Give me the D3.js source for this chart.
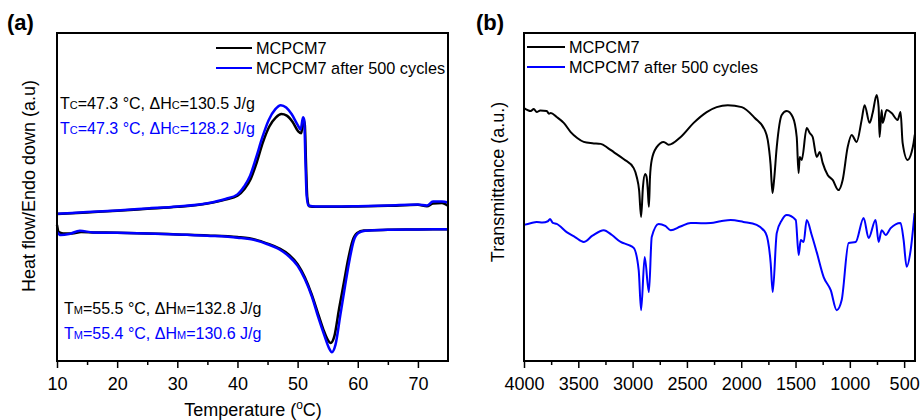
<!DOCTYPE html>
<html>
<head>
<meta charset="utf-8">
<script src="https://cdn.jsdelivr.net/npm/d3@7"></script>
<style>
  body { margin: 0; background: #fff; }
  svg { display: block; font-family: "Liberation Sans", Arial, sans-serif; }
</style>
</head>
<body>
<svg id="chart" width="921" height="420"></svg>
<script>
// ---- panel (a): DSC, temperature (°C) vs heat flow (a.u., 0-100 over the frame) ----
const dscTicks = [10, 20, 30, 40, 50, 60, 70];
const dscMinor = [15, 25, 35, 45, 55, 65];

const coolBlack = [
  [10, 44.8], [15, 45.3], [20, 45.8], [25, 46.4], [30, 47.0], [35, 48.0], [38, 49.2],
  [40, 50.4], [41.2, 52.5], [42.2, 55.5], [43.2, 60.5], [44.2, 66.5], [45.3, 71.5],
  [46.4, 74.3], [47.3, 75.3], [48.2, 74.8], [49.2, 72.8], [50.1, 70.0], [50.6, 69.4],
  [51.0, 73.5], [51.2, 72.0], [51.4, 60.0], [51.6, 50.0], [51.9, 47.2], [53, 47.0],
  [56, 47.0], [60, 47.1], [65, 47.3], [70, 47.6], [71.5, 47.2], [72.5, 48.0], [74, 48.2], [75, 47.3]
];
const coolBlue = [
  [10, 44.9], [15, 45.4], [20, 45.9], [25, 46.5], [30, 47.1], [35, 48.1], [38, 49.4],
  [40, 50.8], [41.1, 53.2], [42.1, 56.5], [43.1, 62.0], [44.1, 68.0], [45.2, 73.5],
  [46.3, 76.8], [47.2, 78.0], [48.1, 77.3], [49.0, 75.3], [50.0, 72.0], [50.5, 70.6],
  [50.9, 74.3], [51.1, 73.5], [51.3, 61.0], [51.5, 50.5], [51.8, 47.4], [53, 47.1],
  [56, 47.1], [60, 47.2], [65, 47.4], [70, 47.7], [71.5, 47.4], [72.5, 48.6], [74, 48.6], [75, 48.3]
];
const heatBlack = [
  [10, 41.5], [10.3, 39.3], [11, 38.9], [12.5, 38.9], [14, 39.3], [16, 39.2], [20, 39.1],
  [25, 38.9], [30, 38.6], [35, 38.3], [40, 37.8], [43, 37.0], [45, 35.8], [47, 34.3],
  [48.5, 32.5], [50, 29.5], [51.2, 25.5], [52.3, 20.5], [53.3, 15.0], [54.3, 9.5],
  [55.0, 6.5], [55.5, 5.5], [56.1, 7.5], [56.9, 16.0], [57.7, 24.0], [58.4, 31.0],
  [59.1, 36.5], [59.9, 39.0], [61, 39.8], [65, 40.0], [70, 40.1], [75, 40.2]
];
const heatBlue = [
  [10, 39.3], [10.6, 38.4], [12, 38.7], [13.8, 39.7], [16, 39.2], [20, 39.1],
  [25, 38.9], [30, 38.6], [35, 38.2], [40, 37.6], [43, 36.8], [45, 35.6], [47, 34.0],
  [48.5, 32.0], [50, 29.0], [51.2, 25.0], [52.4, 19.5], [53.4, 13.5], [54.5, 7.5],
  [55.2, 4.0], [55.7, 2.7], [56.3, 5.0], [57.1, 14.0], [57.9, 23.0], [58.6, 30.5],
  [59.3, 36.5], [60.1, 39.0], [61.2, 39.7], [65, 40.0], [70, 40.1], [75, 40.2]
];

// ---- panel (b): FTIR, wavenumber (cm-1) vs transmittance (a.u., 0-100 over the frame) ----
const irTicks = [4000, 3500, 3000, 2500, 2000, 1500, 1000, 500];
const irMinor = [3750, 3250, 2750, 2250, 1750, 1250, 750];

const irBlack = [
  [4000, 77.1], [3938, 76.2], [3910, 76.8], [3883, 75.9], [3850, 76.4], [3791, 76.2],
  [3770, 75.4], [3754, 75.6], [3699, 74.4], [3634, 72.6], [3570, 69.8], [3510, 68.0],
  [3450, 66.8], [3370, 66.4], [3294, 66.2], [3230, 65.0], [3174, 63.7], [3080, 61.5],
  [2990, 58.8], [2962, 56.1], [2940, 52.0], [2922, 43.9], [2905, 53.0], [2885, 57.0],
  [2871, 56.1], [2860, 52.0], [2850, 47.0], [2840, 56.0], [2824, 61.3], [2778, 65.2],
  [2714, 66.8], [2668, 65.9], [2557, 68.3], [2438, 72.6], [2318, 75.9], [2226, 77.4],
  [2124, 78.0], [1995, 77.4], [1875, 74.1], [1783, 70.4], [1756, 67.4], [1730, 60.0],
  [1712, 51.2], [1698, 55.0], [1673, 65.2], [1627, 75.0], [1581, 76.2], [1526, 74.4],
  [1489, 68.3], [1472, 57.3], [1461, 62.2], [1443, 61.3], [1397, 71.0], [1369, 69.5],
  [1342, 68.3], [1305, 62.2], [1277, 63.7], [1250, 60.4], [1204, 56.7], [1158, 55.2],
  [1105, 52.1], [1066, 55.2], [1020, 65.2], [983, 68.9], [937, 66.8], [891, 73.5],
  [864, 78.0], [818, 72.6], [790, 75.6], [753, 81.1], [735, 77.4], [726, 68.3],
  [707, 76.5], [698, 72.6], [661, 76.5], [615, 75.6], [560, 73.5], [533, 75.9],
  [514, 66.5], [468, 61.3], [431, 63.7], [413, 66.5], [402, 69.0]
];
const irBlue = [
  [4000, 41.5], [3940, 42.0], [3883, 42.4], [3830, 42.2], [3780, 42.6], [3760, 43.3],
  [3735, 42.1], [3699, 41.8], [3607, 39.3], [3530, 37.8], [3450, 36.3], [3370, 38.2],
  [3266, 39.9], [3190, 38.4], [3110, 36.3], [3040, 35.4], [2990, 34.5], [2944, 27.7],
  [2922, 15.5], [2889, 31.7], [2850, 21.0], [2824, 37.8], [2760, 41.8], [2700, 41.2],
  [2649, 39.9], [2560, 41.0], [2465, 42.1], [2370, 42.0], [2281, 42.1], [2190, 42.6],
  [2097, 43.0], [1980, 42.4], [1858, 41.5], [1775, 39.0], [1729, 29.9], [1710, 21.0],
  [1673, 39.0], [1625, 43.0], [1581, 44.5], [1498, 43.0], [1471, 32.3], [1452, 36.9],
  [1425, 36.3], [1397, 43.0], [1351, 38.4], [1305, 33.2], [1241, 25.6], [1176, 21.6],
  [1121, 15.5], [1075, 18.6], [1011, 36.0], [946, 36.3], [873, 43.6], [827, 37.5],
  [763, 43.0], [735, 36.3], [707, 39.9], [670, 38.4], [624, 40.5], [533, 42.1],
  [505, 36.9], [477, 28.7], [440, 33.8], [404, 45.1]
];

const seriesNames = ["MCPCM7", "MCPCM7 after 500 cycles"];
const colors = ["#000000", "#0000ff"];

const svg = d3.select("#chart");
const FONT = 18;

function panel(opts) {
  const x = d3.scaleLinear().domain(opts.xDomain).range([opts.left, opts.right]);
  const y = d3.scaleLinear().domain([0, 100]).range([opts.bottom, opts.top]);
  const g = svg.append("g");

  const line = d3.line()
    .x(d => x(d[0]))
    .y(d => y(d[1]))
    .curve(d3.curveMonotoneX);

  opts.curves.forEach(c => {
    g.append("path")
      .datum(c.data)
      .attr("d", line)
      .attr("fill", "none")
      .attr("stroke", c.color)
      .attr("stroke-width", c.width || 2)
      .attr("stroke-linejoin", "round");
  });

  // frame
  g.append("rect")
    .attr("x", opts.left).attr("y", opts.top)
    .attr("width", opts.right - opts.left).attr("height", opts.bottom - opts.top)
    .attr("fill", "none").attr("stroke", "#000").attr("stroke-width", 2);

  // bottom ticks, pointing out
  const major = g.append("g")
    .attr("transform", `translate(0,${opts.bottom})`)
    .call(d3.axisBottom(x).tickValues(opts.ticks).tickSize(7).tickPadding(9).tickFormat(d3.format("d")));
  major.select(".domain").remove();
  major.selectAll("line").attr("stroke-width", 1.5);
  major.selectAll("text").attr("font-size", FONT).attr("font-family", "Liberation Sans, Arial, sans-serif").attr("fill", "#000");

  const minor = g.append("g")
    .attr("transform", `translate(0,${opts.bottom})`)
    .call(d3.axisBottom(x).tickValues(opts.minor).tickSize(4).tickFormat(""));
  minor.select(".domain").remove();
  minor.selectAll("line").attr("stroke-width", 1.5);

  // legend
  seriesNames.forEach((name, i) => {
    const ly = opts.legendY + i * 20;
    g.append("line")
      .attr("x1", opts.legendX).attr("x2", opts.legendX + opts.legendLen)
      .attr("y1", ly).attr("y2", ly)
      .attr("stroke", colors[i]).attr("stroke-width", 2);
    g.append("text")
      .attr("x", opts.legendX + opts.legendLen + 4).attr("y", ly)
      .attr("dy", "0.36em")
      .attr("font-size", 16.3)
      .text(name);
  });

  // y title
  g.append("text")
    .attr("transform", `translate(${opts.yTitleX},${opts.yTitleY}) rotate(-90)`)
    .attr("text-anchor", "middle")
    .attr("dy", "0.35em")
    .attr("font-size", FONT)
    .text(opts.yTitle);

  // panel letter
  g.append("text")
    .attr("x", opts.letterX).attr("y", 30)
    .attr("font-size", 22).attr("font-weight", "bold")
    .text(opts.letter);

  return { g, x, y };
}

const a = panel({
  left: 57, right: 448, top: 33, bottom: 361,
  xDomain: [10, 75], ticks: dscTicks, minor: dscMinor,
  curves: [
    { data: coolBlack, color: colors[0], width: 2.5 },
    { data: heatBlack, color: colors[0], width: 2.5 },
    { data: coolBlue, color: colors[1], width: 2.5 },
    { data: heatBlue, color: colors[1], width: 2.5 }
  ],
  legendX: 216, legendLen: 36, legendY: 48,
  yTitle: "Heat flow/Endo down (a.u)", yTitleX: 29, yTitleY: 186,
  letter: "(a)", letterX: 7
});

// x title for (a)
a.g.append("text")
  .attr("x", 253).attr("y", 416)
  .attr("text-anchor", "middle")
  .attr("font-size", FONT)
  .call(t => {
    t.append("tspan").text("Temperature (");
    t.append("tspan").attr("dy", -7).attr("font-size", 12).text("o");
    t.append("tspan").attr("dy", 7).text("C)");
  });

// enthalpy notes
const notes = [
  { x: 60, y: 109, color: colors[0], t: "47.3", h: "130.5", s: "C" },
  { x: 60, y: 134, color: colors[1], t: "47.3", h: "128.2", s: "C" },
  { x: 64, y: 314, color: colors[0], t: "55.5", h: "132.8", s: "M" },
  { x: 64, y: 339, color: colors[1], t: "55.4", h: "130.6", s: "M" }
];
notes.forEach(n => {
  const t = a.g.append("text")
    .attr("x", n.x).attr("y", n.y)
    .attr("font-size", 16).attr("fill", n.color);
  t.append("tspan").text("T");
  t.append("tspan").attr("font-size", 11).text(n.s);
  t.append("tspan").text(`=${n.t} °C, ΔH`);
  t.append("tspan").attr("font-size", 11).text(n.s);
  t.append("tspan").text(`=${n.h} J/g`);
});

panel({
  left: 524, right: 915, top: 33, bottom: 361,
  xDomain: [4000, 400], ticks: irTicks, minor: irMinor,
  curves: [
    { data: irBlack, color: colors[0], width: 2 },
    { data: irBlue, color: colors[1], width: 2 }
  ],
  legendX: 527, legendLen: 38, legendY: 47,
  yTitle: "Transmittance (a.u.)", yTitleX: 498, yTitleY: 182,
  letter: "(b)", letterX: 476
});
</script>
</body>
</html>
